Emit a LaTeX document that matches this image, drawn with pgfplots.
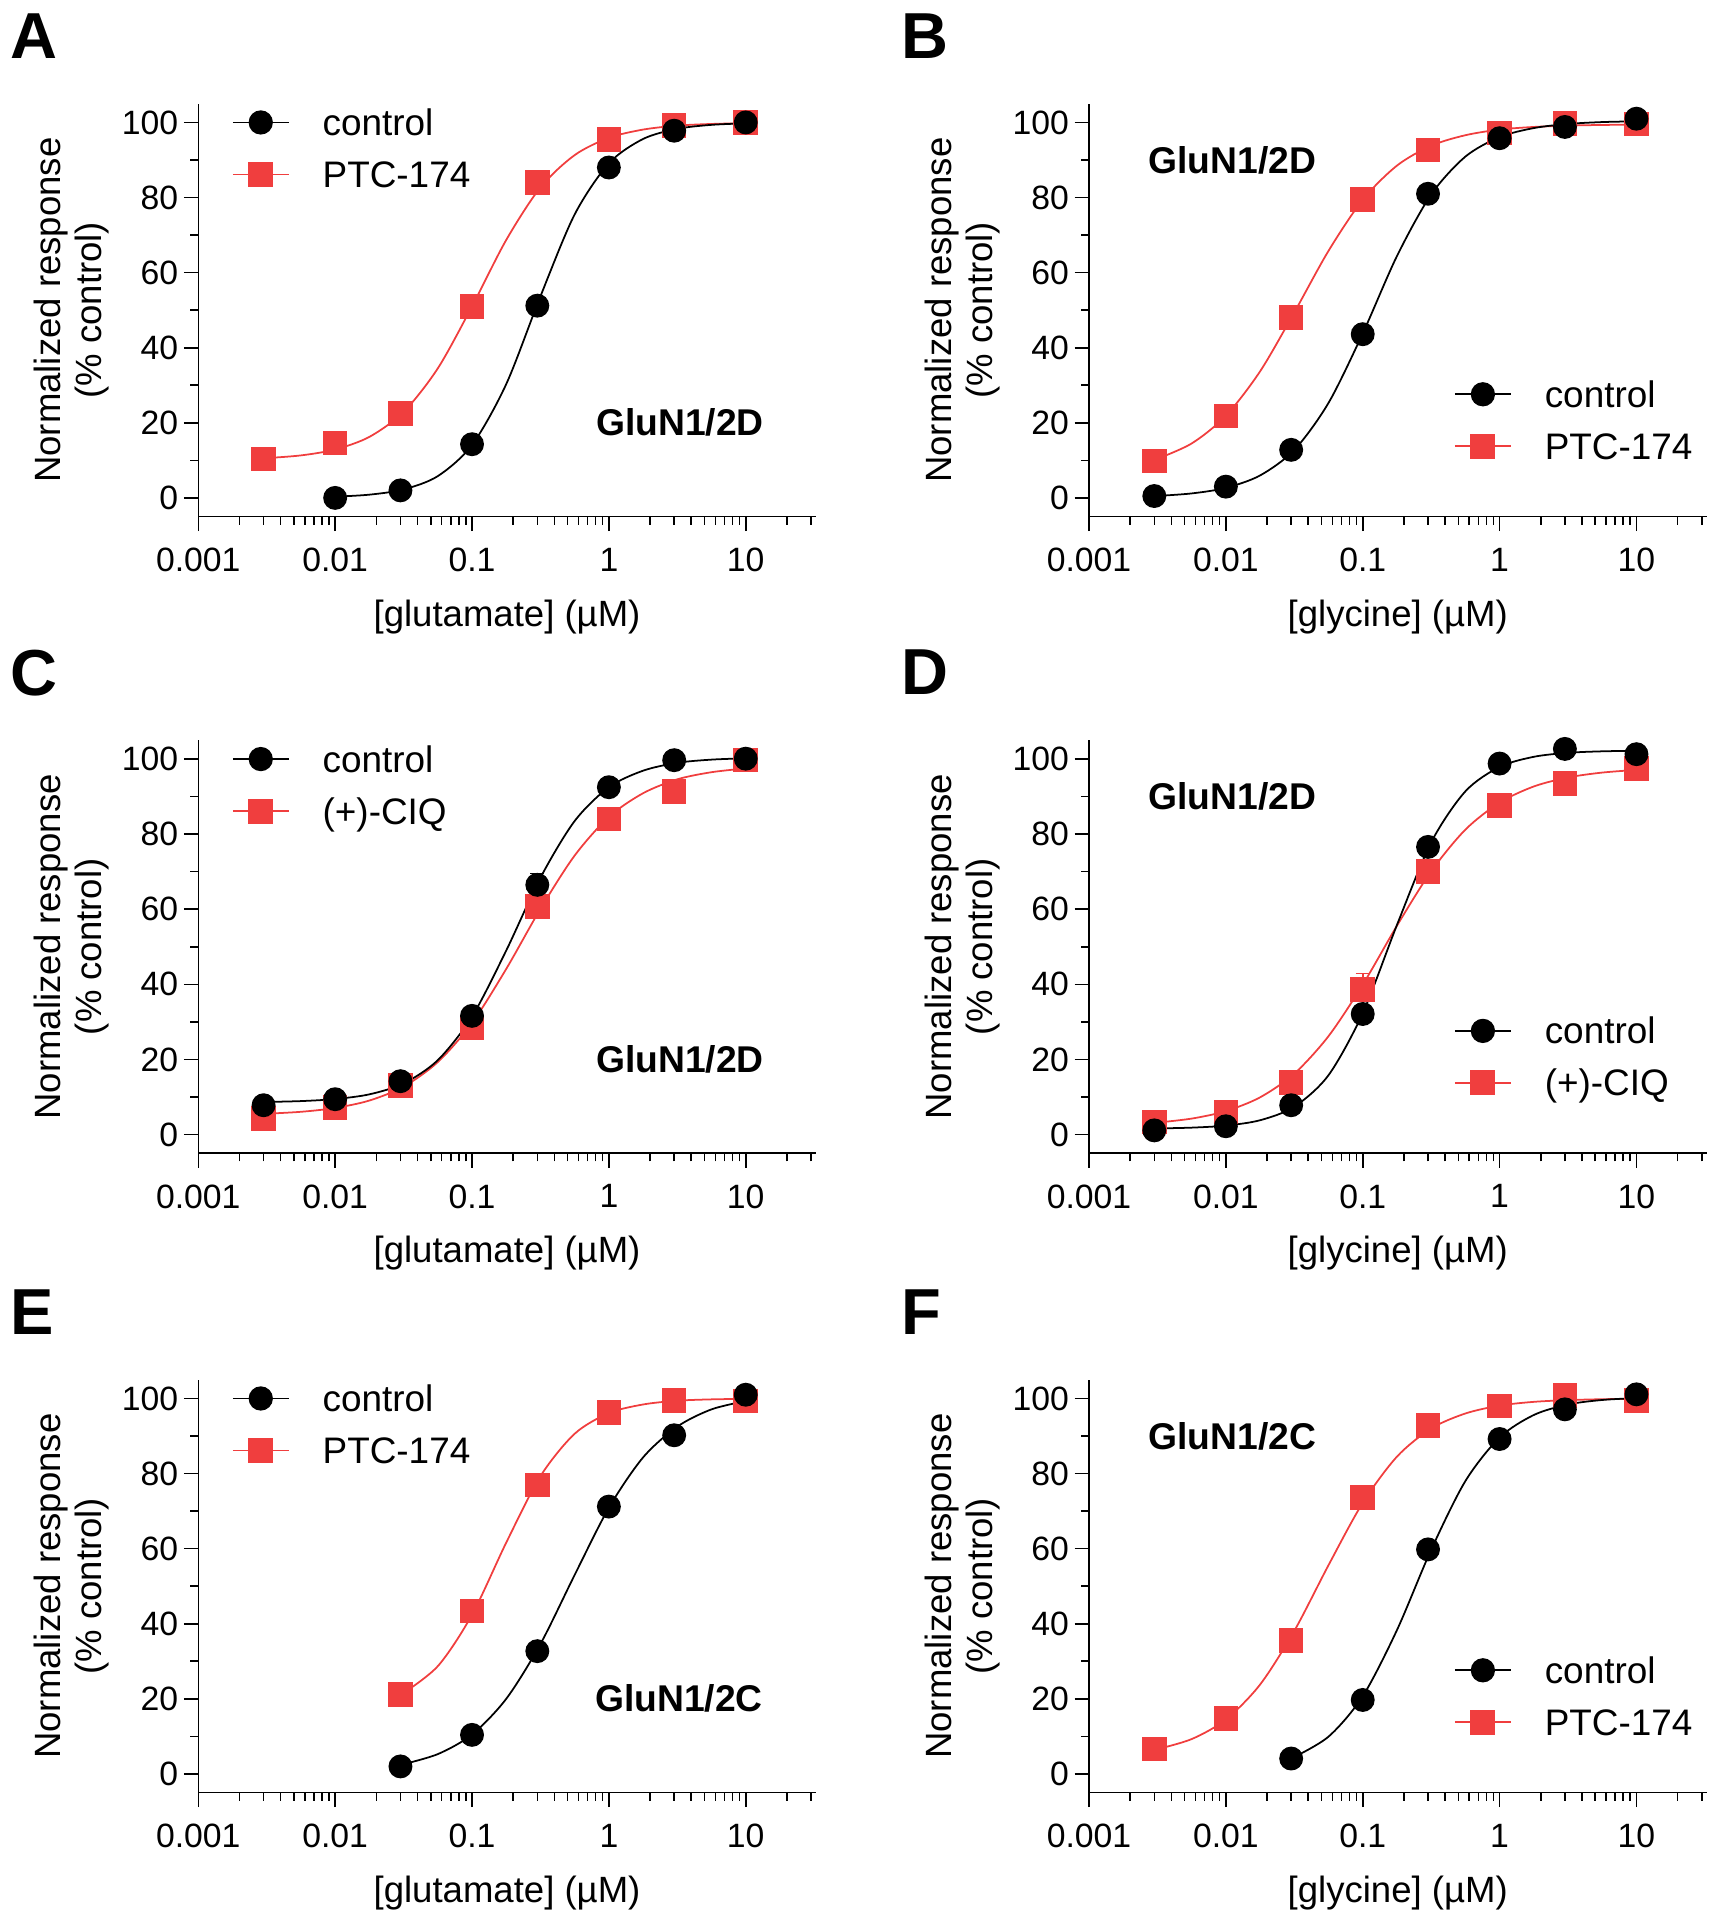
\documentclass[border=0pt]{standalone}
\usepackage{fontspec}
\setmainfont{Liberation Sans}
\usepackage{pgfplots}
\pgfplotsset{compat=1.18}
\definecolor{myred}{RGB}{240,62,62}
\pgfplotsset{
  legend image code/.code={\draw[#1, mark repeat=2, mark phase=2] plot coordinates {(0cm,0cm) (0.28cm,0cm) (0.56cm,0cm)};},
}
\tikzset{
  letter/.style={anchor=north west, inner sep=0pt, font=\fontsize{18.5}{19}\bfseries, xshift=-1.885cm, yshift=0.91cm},
  glun/.style={inner sep=0pt, font=\fontsize{10.6}{11}\bfseries},
}
\newcommand{\panelbegin}[3]{%
\begin{axis}[
    width=6.175cm, height=4.13cm, scale only axis, clip=false,
    xmode=log, xmin=0.001, xmax=32.5, ymin=-5, ymax=105,
    axis x line*=bottom, axis y line*=left,
    axis line style={-, line width=0.45pt},
    xtick={0.001,0.01,0.1,1,10}, xticklabels={0.001,0.01,0.1,1,10},
    minor xtick={0.002,0.003,0.004,0.005,0.006,0.007,0.008,0.009,0.02,0.03,0.04,0.05,0.06,0.07,0.08,0.09,0.2,0.3,0.4,0.5,0.6,0.7,0.8,0.9,2,3,4,5,6,7,8,9,20,30},
    ytick={0,20,40,60,80,100}, minor ytick={10,30,50,70,90},
    tick align=outside, major tick length=0.145cm, minor tick length=0.08cm,
    tick style={black, line width=0.45pt},
    tick label style={font=\fontsize{9.6}{10}\selectfont},
    xticklabel style={inner sep=0pt, yshift=-0.16cm},
    yticklabel style={inner sep=0pt, xshift=-0.05cm},
    label style={font=\fontsize{10.4}{11.7}\selectfont},
    xlabel style={at={(axis description cs:0.5,-0.2421)}, anchor=center},
    ylabel style={at={(axis description cs:-0.2049,0.5)}, anchor=center, align=center},
    ylabel={Normalized response\\(\% control)},
    legend style={draw=none, fill=none, inner sep=0pt, outer sep=0pt, row sep=0.26cm,
      column sep=0.33cm,
      font=\fontsize{10.5}{11}\selectfont,
      nodes={inner sep=0pt, text height=0.26cm, text depth=0pt}},
    legend cell align=left,
    /pgf/number format/assume math mode=true,
    at={#1}, anchor=south west,
    xlabel={#2},
    legend style={at={#3}, anchor=north west}]
\addlegendimage{black, line width=0.5pt, mark=*, mark size=3.2pt, mark options={solid, draw=black, fill=black}}
\addlegendimage{myred, line width=0.5pt, mark=square*, mark size=3.3pt, mark options={solid, draw=myred, fill=myred}}
}
\pgfplotsset{
  ctrlcurve/.style={black, line width=0.5pt, smooth, no markers, forget plot},
  redcurve/.style={myred, line width=0.5pt, smooth, no markers, forget plot},
  ctrlmarks/.style={only marks, mark=*, mark size=3.2pt, mark options={draw=black, fill=black}, forget plot},
  redmarks/.style={only marks, mark=square*, mark size=3.3pt, mark options={draw=myred, fill=myred}, forget plot},
}
\begin{document}
\begin{tikzpicture}
\useasboundingbox (0,0) rectangle (17.16cm,19.2cm);

% ---------------- A ----------------
\panelbegin{(1.983cm,14.033cm)}{{[}glutamate{]} (µM)}{(axis cs:0.00176,103.46)}
\legend{control, PTC-174}
\addplot[redcurve] coordinates {(0.003,10.55) (0.005623,11.32) (0.01,12.9) (0.01778,16.25) (0.03162,22.9) (0.05623,34.5) (0.1,51.0) (0.1778,68.7) (0.3162,82.7) (0.5623,91.3) (1,95.9) (1.778,98.1) (3.162,99.15) (5.623,99.6) (10,99.8)};
\addplot[redmarks] coordinates {(0.003,10.4) (0.01,14.6) (0.03,22.5) (0.1,51) (0.3,84) (1,95.5) (3,99.2) (10,100)};
\addplot[ctrlcurve] coordinates {(0.01,0.33) (0.01778,0.86) (0.03162,2.26) (0.05623,5.8) (0.1,14.1) (0.1778,30.3) (0.3162,53.7) (0.5623,75.5) (1,89.1) (1.778,95.6) (3.162,98.3) (5.623,99.36) (10,99.76)};
\addplot[ctrlmarks] coordinates {(0.01,0) (0.03,2.0) (0.1,14.3) (0.3,51.2) (1,88) (3,97.8) (10,100)};
\node[letter] at (rel axis cs:0,1) {A};
\node[glun, anchor=east] at (axis cs:13.7,20) {GluN1/2D};
\end{axis}

% ---------------- B ----------------
\panelbegin{(10.89cm,14.033cm)}{{[}glycine{]} (µM)}{(axis cs:0.4645,31.06)}
\legend{control, PTC-174}
\addplot[redcurve] coordinates {(0.003,10.1) (0.005623,14.5) (0.01,21.9) (0.01778,33.7) (0.03162,49.4) (0.05623,65.8) (0.1,79.4) (0.1778,88.5) (0.3162,93.8) (0.5623,96.6) (1,98.1) (1.778,98.8) (3.162,99.16) (5.623,99.33) (10,99.42)};
\addplot[redmarks] coordinates {(0.003,9.8) (0.01,21.8) (0.03,48) (0.1,79.5) (0.3,92.7) (1,97.2) (3,99.7) (10,99.6)};
\addplot[ctrlcurve] coordinates {(0.003,0.48) (0.005623,1.19) (0.01,2.68) (0.01778,5.98) (0.03162,12.77) (0.05623,25.3) (0.1,43.8) (0.1778,64.4) (0.3162,80.8) (0.5623,90.9) (1,96.1) (1.778,98.5) (3.162,99.6) (5.623,100.1) (10,100.3)};
\addplot[ctrlmarks] coordinates {(0.003,0.5) (0.01,3) (0.03,12.8) (0.1,43.6) (0.3,81) (1,95.8) (3,98.8) (10,101)};
\node[letter] at (rel axis cs:0,1) {B};
\node[glun, anchor=west] at (axis cs:0.00268,90) {GluN1/2D};
\end{axis}

% ---------------- C ----------------
\panelbegin{(1.983cm,7.667cm)}{{[}glutamate{]} (µM)}{(axis cs:0.00176,103.46)}
\legend{control, (+)-CIQ}
\addplot[black, line width=0.5pt, only marks, mark=none, forget plot,
  error bars/.cd, y dir=plus, y explicit, error bar style={line width=0.5pt}]
  coordinates {(0.3,66.5) +- (0,3)};
\addplot[redcurve] coordinates {(0.003,5.5) (0.005623,6.05) (0.01,7.07) (0.01778,9.05) (0.03162,12.75) (0.05623,19.3) (0.1,29.7) (0.1778,44.1) (0.3162,60.1) (0.5623,74.3) (1,84.6) (1.778,90.9) (3.162,94.6) (5.623,96.5) (10,97.5)};
\addplot[redmarks] coordinates {(0.003,4.2) (0.01,7.2) (0.03,13) (0.1,28.4) (0.3,60.7) (1,84) (3,91.3) (10,99.7)};
\addplot[ctrlcurve] coordinates {(0.003,8.66) (0.005623,8.9) (0.01,9.45) (0.01778,10.7) (0.03162,13.6) (0.05623,19.8) (0.1,31.4) (0.1778,49.0) (0.3162,68.4) (0.5623,83.5) (1,92.5) (1.778,96.9) (3.162,99.0) (5.623,99.85) (10,100.2)};
\addplot[ctrlmarks] coordinates {(0.003,7.8) (0.01,9.4) (0.03,14.2) (0.1,31.6) (0.3,66.5) (1,92.5) (3,99.7) (10,100.1)};
\node[letter] at (rel axis cs:0,1) {C};
\node[glun, anchor=east] at (axis cs:13.7,20) {GluN1/2D};
\end{axis}

% ---------------- D ----------------
\panelbegin{(10.89cm,7.667cm)}{{[}glycine{]} (µM)}{(axis cs:0.4645,31.06)}
\legend{control, (+)-CIQ}
\addplot[myred, line width=0.5pt, only marks, mark=none, forget plot,
  error bars/.cd, y dir=plus, y explicit, error bar style={line width=0.5pt}]
  coordinates {(0.1,38.6) +- (0,4.3)};
\addplot[redcurve] coordinates {(0.003,3.1) (0.005623,4.24) (0.01,6.24) (0.01778,9.9) (0.03162,16.2) (0.05623,26.2) (0.1,39.9) (0.1778,55.6) (0.3162,70.1) (0.5623,81.2) (1,88.4) (1.778,92.7) (3.162,95.1) (5.623,96.4) (10,97.1)};
\addplot[redmarks] coordinates {(0.003,3.3) (0.01,6.0) (0.03,13.9) (0.1,38.6) (0.3,70) (1,87.7) (3,93.5) (10,97.5)};
\addplot[ctrlcurve] coordinates {(0.003,1.61) (0.005623,1.83) (0.01,2.38) (0.01778,3.8) (0.03162,7.4) (0.05623,15.8) (0.1,32.3) (0.1778,55.8) (0.3162,77.8) (0.5623,91.4) (1,97.9) (1.778,100.6) (3.162,101.66) (5.623,102.06) (10,102.2)};
\addplot[ctrlmarks] coordinates {(0.003,1.1) (0.01,2.2) (0.03,7.8) (0.1,32.1) (0.3,76.6) (1,98.8) (3,102.7) (10,101.3)};
\node[letter] at (rel axis cs:0,1) {D};
\node[glun, anchor=west] at (axis cs:0.00268,90) {GluN1/2D};
\end{axis}

% ---------------- E ----------------
\panelbegin{(1.983cm,1.273cm)}{{[}glutamate{]} (µM)}{(axis cs:0.00176,103.46)}
\legend{control, PTC-174}
\addplot[redcurve] coordinates {(0.03,21.0) (0.05623,28.7) (0.1,42.4) (0.1778,61.6) (0.3162,79.3) (0.5623,90.6) (1,96.1) (1.778,98.4) (3.162,99.4) (5.623,99.76) (10,99.9)};
\addplot[redmarks] coordinates {(0.03,21.2) (0.1,43.4) (0.3,77) (1,96.2) (3,99.5) (10,99.3)};
\addplot[ctrlcurve] coordinates {(0.03,2.4) (0.05623,5.28) (0.1,10.5) (0.1778,20.0) (0.3162,34.6) (0.5623,53.0) (1,70.9) (1.778,84.3) (3.162,92.5) (5.623,97.1) (10,99.3)};
\addplot[ctrlmarks] coordinates {(0.03,2) (0.1,10.4) (0.3,32.7) (1,71.2) (3,90.2) (10,101)};
\node[letter] at (rel axis cs:0,1) {E};
\node[glun, anchor=east] at (axis cs:13.5,20) {GluN1/2C};
\end{axis}

% ---------------- F ----------------
\panelbegin{(10.89cm,1.273cm)}{{[}glycine{]} (µM)}{(axis cs:0.4645,31.06)}
\legend{control, PTC-174}
\addplot[redcurve] coordinates {(0.003,6.4) (0.005623,9.28) (0.01,14.5) (0.01778,23.8) (0.03162,38.1) (0.05623,55.6) (0.1,72.2) (0.1778,84.5) (0.3162,92.0) (0.5623,96.0) (1,98.1) (1.778,99.1) (3.162,99.56) (5.623,99.8) (10,99.9)};
\addplot[redmarks] coordinates {(0.003,6.6) (0.01,14.7) (0.03,35.6) (0.1,73.6) (0.3,92.8) (1,98) (3,100.8) (10,99.4)};
\addplot[ctrlcurve] coordinates {(0.03,4.11) (0.05623,9.93) (0.1,20.7) (0.1778,38.3) (0.3162,59.7) (0.5623,78.0) (1,89.6) (1.778,95.6) (3.162,98.4) (5.623,99.6) (10,100.1)};
\addplot[ctrlmarks] coordinates {(0.03,4.1) (0.1,19.7) (0.3,59.8) (1,89.2) (3,97.1) (10,101.1)};
\node[letter] at (rel axis cs:0,1) {F};
\node[glun, anchor=west] at (axis cs:0.00268,90) {GluN1/2C};
\end{axis}
\end{tikzpicture}
\end{document}
